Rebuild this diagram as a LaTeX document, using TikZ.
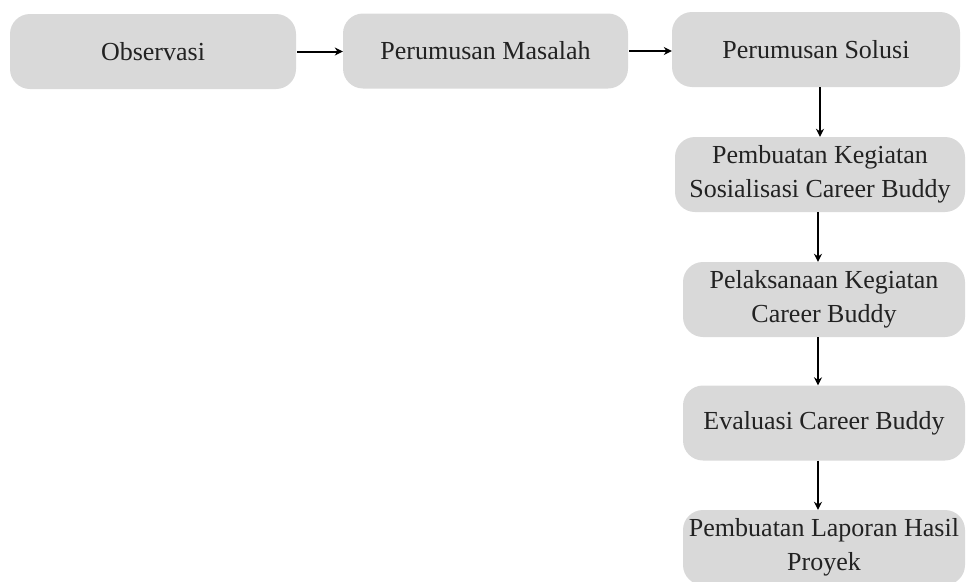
\documentclass[tikz,border=0pt]{standalone}
\usepackage{fontspec}
\setmainfont{Liberation Serif}
\usetikzlibrary{arrows.meta}
\definecolor{boxgray}{HTML}{D9D9D9}
\definecolor{txt}{HTML}{222222}
\begin{document}
\begin{tikzpicture}[x=1pt,y=-1pt,
  stepbox/.style={fill=boxgray,draw=none,rounded corners=20pt,minimum height=75pt,
    align=center,text=txt,font=\fontsize{26}{34}\selectfont,inner sep=0pt},
  arr/.style={-{Stealth[length=8pt,width=8pt]},line width=2pt,black}]
\useasboundingbox (0,0) rectangle (971,581);
\node[stepbox,minimum width=286pt] (b1) at (153,51.5) {Observasi};
\node[stepbox,minimum width=285pt] (b2) at (485.5,51) {Perumusan Masalah};
\node[stepbox,minimum width=288pt] (b3) at (816,49.5) {Perumusan Solusi};
\node[stepbox,minimum width=290pt] (b4) at (820,174.5) {Pembuatan Kegiatan\\Sosialisasi Career Buddy};
\node[stepbox,minimum width=282pt] (b5) at (824,299.5) {Pelaksanaan Kegiatan\\Career Buddy};
\node[stepbox,minimum width=282pt] (b6) at (824,423) {Evaluasi Career Buddy};
\node[stepbox,minimum width=282pt] (b7) at (824,547.5) {Pembuatan Laporan Hasil\\Proyek};
\draw[arr] (b1.east) ++(1,0) -- (b2.west |- b1.east);
\draw[arr] (b2.east) ++(1,0) -- (b3.west |- b2.east);
\draw[arr] (b3.south -| 820,0) -- (b4.north -| 820,0);
\draw[arr] (b4.south -| 818,0) -- (b5.north -| 818,0);
\draw[arr] (b5.south -| 818,0) -- (b6.north -| 818,0);
\draw[arr] (b6.south -| 818,0) -- (b7.north -| 818,0);
\end{tikzpicture}
\end{document}
